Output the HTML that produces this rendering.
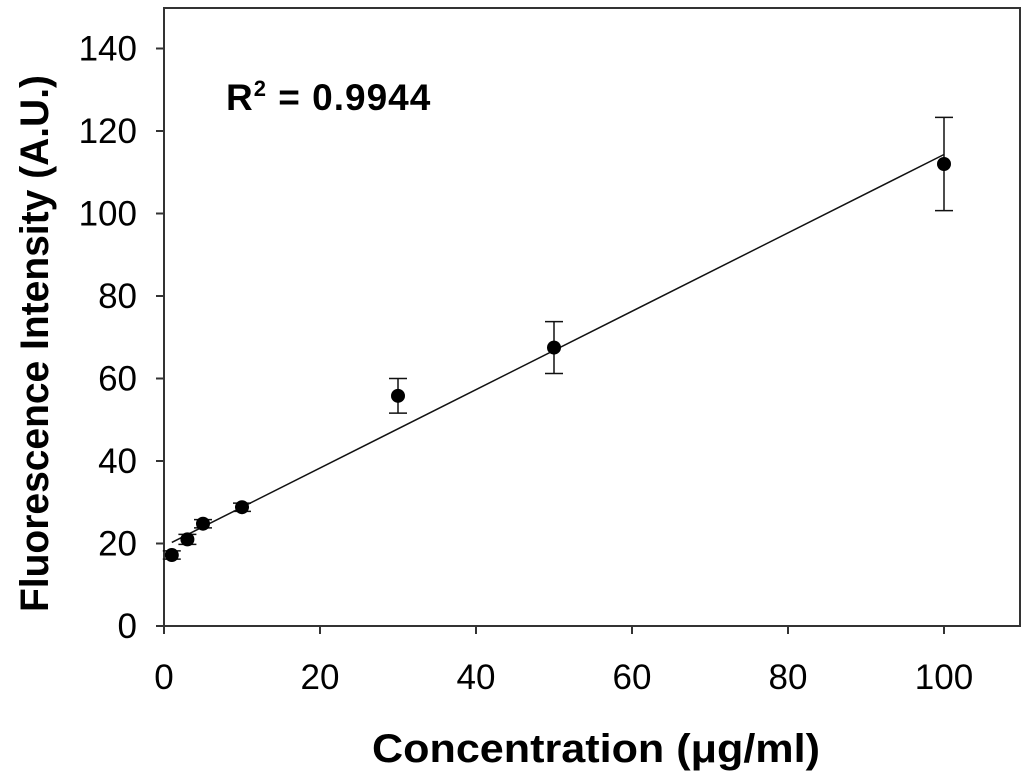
<!DOCTYPE html>
<html><head><meta charset="utf-8"><style>
body{margin:0;background:#fff;}
svg{display:block;font-family:"Liberation Sans",Arial,sans-serif;}
</style></head><body>
<svg id="chart" width="1024" height="784">
<rect x="164" y="8" width="856" height="618" fill="none" stroke="#333" stroke-width="2"/>
<g id="axes"></g><g id="marks"></g>
<text x="226" y="110" font-size="37" font-weight="bold" letter-spacing="1">R<tspan font-size="22" dy="-14">2</tspan><tspan dy="14"> = 0.9944</tspan></text>
<text x="372" y="762" font-size="40" font-weight="bold" textLength="448" lengthAdjust="spacingAndGlyphs">Concentration (μg/ml)</text>
<text transform="translate(48,612) rotate(-90)" font-size="40" font-weight="bold" textLength="537" lengthAdjust="spacingAndGlyphs">Fluorescence Intensity (A.U.)</text>
</svg>
<script>
const xs=[1,3,5,10,30,50,100];
const ys=[17.2,21,24.8,28.8,55.8,67.5,112];
const errs=[1,1.2,1,1,4.2,6.3,11.3];
const xTicks=[0,20,40,60,80,100];
const yTicks=[0,20,40,60,80,100,120,140];
const fitSlope=0.95, fitIntercept=19.3, fitRange=[1,100];
const X=v=>164+v*7.8, Y=v=>626-v*4.125;
const NS="http://www.w3.org/2000/svg";
function mk(p,t,a){const e=document.createElementNS(NS,t);for(const k in a)e.setAttribute(k,a[k]);p.appendChild(e);return e;}
const ax=document.getElementById('axes'), mg=document.getElementById('marks');
xTicks.forEach(t=>{
 const l=mk(ax,'line',{x1:X(t),x2:X(t),y1:626,y2:634,stroke:'#333','stroke-width':2});
 
 
 const tx=mk(ax,'text',{x:X(t),y:689,'font-size':35,'text-anchor':'middle'});tx.textContent=t;
 
 
});
yTicks.forEach(t=>{
 const l=mk(ax,'line',{x1:156,x2:164,y1:Y(t),y2:Y(t),stroke:'#333','stroke-width':2});
 
 
 const tx=mk(ax,'text',{x:137,y:Y(t)+12,'font-size':35,'text-anchor':'end'});tx.textContent=t;
 
 
});
const fl=mk(mg,'line',{x1:X(fitRange[0]),y1:Y(fitIntercept+fitSlope*fitRange[0]),x2:X(fitRange[1]),y2:Y(fitIntercept+fitSlope*fitRange[1]),stroke:'#111','stroke-width':1.5});


xs.forEach((x,i)=>{
 const cx=X(x),y1=Y(ys[i]+errs[i]),y2=Y(ys[i]-errs[i]);
 const g=mk(mg,'g',{stroke:'#111','stroke-width':1.5});
 
 
 mk(g,'line',{x1:cx,x2:cx,y1:y1,y2:y2});
 mk(g,'line',{x1:cx-9,x2:cx+9,y1:y1,y2:y1});
 mk(g,'line',{x1:cx-9,x2:cx+9,y1:y2,y2:y2});
 const c=mk(mg,'circle',{cx:cx,cy:Y(ys[i]),r:7,fill:'#000'});
 
 
});
</script>
</body></html>
